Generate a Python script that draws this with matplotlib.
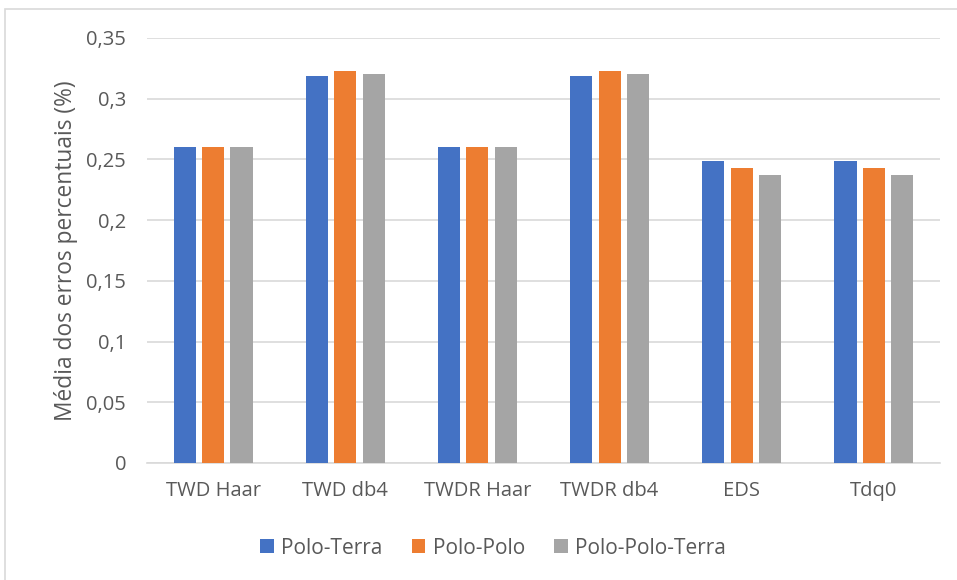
import matplotlib
matplotlib.use("Agg")
import matplotlib.pyplot as plt
import numpy as np
from matplotlib.patches import Rectangle

categories = ["TWD Haar", "TWD db4", "TWDR Haar", "TWDR db4", "EDS", "Tdq0"]
series_names = ["Polo-Terra", "Polo-Polo", "Polo-Polo-Terra"]
polo_terra = [0.26, 0.319, 0.26, 0.319, 0.249, 0.249]
polo_polo = [0.26, 0.323, 0.26, 0.323, 0.243, 0.243]
polo_polo_terra = [0.26, 0.32, 0.26, 0.32, 0.237, 0.237]
yticks = [0, 0.05, 0.1, 0.15, 0.2, 0.25, 0.3, 0.35]
ytick_labels = ["0", "0,05", "0,1", "0,15", "0,2", "0,25", "0,3", "0,35"]
colors = ["#4472C4", "#ED7D31", "#A5A5A5"]

plt.rcParams['font.family'] = ['Open Sans', 'DejaVu Sans']
txt = "#595959"

fig = plt.figure(figsize=(9.57, 5.8), dpi=100)
ax = fig.add_axes([147/957, 1 - 463/580, (940-147)/957, (463-38)/580])

x = np.arange(len(categories))
width = 0.167
step = 0.215
for i, (vals, name) in enumerate(zip([polo_terra, polo_polo, polo_polo_terra], series_names)):
    ax.bar(x + (i - 1) * step, vals, width, color=colors[i], label=name, zorder=3)

ax.set_xlim(-0.5, len(categories) - 0.5)
ax.set_ylim(0, 0.35)
ax.set_yticks(yticks)
ax.set_yticklabels(ytick_labels)
ax.set_xticks(x)
ax.set_xticklabels(categories)
ax.tick_params(axis='both', length=0, colors=txt, labelsize=14.5)
ax.tick_params(axis='y', pad=15)
ax.tick_params(axis='x', pad=13)
ax.grid(axis='y', color="#D9D9D9", linewidth=1.2, zorder=0)
for s in ['top', 'right', 'left']:
    ax.spines[s].set_visible(False)
ax.spines['bottom'].set_color("#D9D9D9")
ax.spines['bottom'].set_linewidth(1.2)
ax.set_ylabel("Média dos erros percentuais (%)", color=txt, fontsize=16.4, labelpad=6)

leg = fig.legend(loc='center', bbox_to_anchor=(493/957, 1 - 548/580), ncol=3, frameon=False,
                 fontsize=15, handlelength=0.65, handleheight=0.65, columnspacing=1.4,
                 handletextpad=0.35)
for t in leg.get_texts():
    t.set_color(txt)

# chart border
fig.patches.append(Rectangle((5/957, -0.05), 1.0, 1 - 9/580 + 0.05, transform=fig.transFigure,
                             fill=False, edgecolor="#D9D9D9", linewidth=1.2))

fig.savefig("out.png", dpi=100)
